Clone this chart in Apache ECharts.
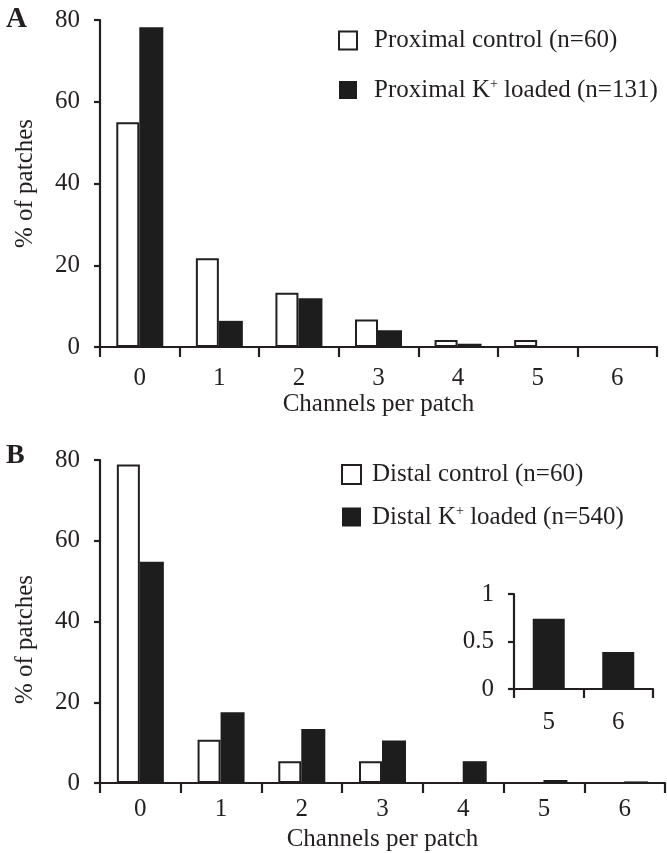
<!DOCTYPE html>
<html>
<head>
<meta charset="utf-8">
<script src="https://cdn.jsdelivr.net/npm/echarts@6/dist/echarts.min.js"></script>
<style>
html,body{margin:0;padding:0;background:#fff;}
#c{width:667px;height:853px;}
</style>
</head>
<body>
<div id="c"></div>
<script>
// ---- data ----
const categories = ['0', '1', '2', '3', '4', '5', '6'];
const proximalControl = [55.0, 21.7, 13.3, 6.7, 1.7, 1.7, 0];
const proximalLoaded = [78.2, 6.4, 11.9, 4.1, 0.8, 0, 0];
const distalControl = [78.9, 10.7, 5.4, 5.4, 0, 0, 0];
const distalLoaded = [54.8, 17.5, 13.4, 10.5, 5.4, 0.74, 0.39];
const insetCategories = ['5', '6'];
const insetValues = insetCategories.map(c => distalLoaded[categories.indexOf(c)]);
const seriesNames = {
  pc: 'Proximal control (n=60)',
  pl: 'Proximal K+ loaded (n=131)',
  dc: 'Distal control (n=60)',
  dl: 'Distal K+ loaded (n=540)'
};
const yTicksMain = [0, 20, 40, 60, 80];
const yTicksInset = [0, 0.5, 1];

// ---- styles ----
const FONT = "'Liberation Serif', 'Times New Roman', Times, serif";
const INK = '#231f20';
const FILL = '#1d1d1d';
const FS = 25;
const axisLine = { show: true, lineStyle: { color: INK, width: 2.2 } };
const lbl = { color: INK, fontFamily: FONT, fontSize: FS };

function xAxis(gi, data, tickLen, margin, name, nameGap) {
  return {
    type: 'category', gridIndex: gi, data: data,
    axisLine: axisLine,
    axisTick: { show: true, alignWithLabel: false, length: tickLen, lineStyle: { color: INK, width: 2.2 } },
    axisLabel: Object.assign({ margin: margin }, lbl),
    name: name, nameLocation: 'middle', nameGap: nameGap,
    nameTextStyle: lbl,
    splitLine: { show: false }
  };
}
function yAxis(gi, min, max, interval, name, pad, fmt) {
  return {
    type: 'value', gridIndex: gi, min: min, max: max, interval: interval,
    axisLine: axisLine,
    axisTick: { show: true, length: 6, lineStyle: { color: INK, width: 2.2 } },
    axisLabel: Object.assign({ margin: 20, formatter: fmt }, lbl),
    splitLine: { show: false },
    name: name, nameLocation: 'middle', nameGap: 62,
    nameTextStyle: Object.assign({ padding: pad }, lbl)
  };
}
const ctrlStyle = { color: '#fff', borderColor: INK, borderWidth: 2 };
const loadStyle = { color: FILL };

function legendFmt(n) { return n.replace('K+', 'K{sup|+}'); }
function legendText(padLeft) {
  return {
    color: INK, fontFamily: FONT, fontSize: FS, padding: [0, 0, 0, padLeft],
    rich: { sup: { fontFamily: FONT, fontSize: 14, color: INK, padding: [0, 0, 12, 0] } }
  };
}

const option = {
  backgroundColor: '#fff',
  animation: false,
  title: [
    { text: 'A', left: 1, top: 0, textStyle: { fontFamily: FONT, fontWeight: 'bold', fontSize: 29, color: INK } },
    { text: 'B', left: 1, top: 437, textStyle: { fontFamily: FONT, fontWeight: 'bold', fontSize: 28, color: INK } }
  ],
  grid: [
    { left: 100, right: 10, top: 20, height: 327 },
    { left: 100, right: 2, top: 460, height: 324 },
    { left: 514, right: 14, top: 594, height: 95 }
  ],
  legend: [
    {
      orient: 'vertical', left: 338, top: 28, padding: 0, itemWidth: 18, itemHeight: 18, itemGap: 24,
      icon: 'rect', formatter: legendFmt, textStyle: legendText(12),
      data: [
        { name: seriesNames.pc, itemStyle: ctrlStyle },
        { name: seriesNames.pl, itemStyle: loadStyle }
      ]
    },
    {
      orient: 'vertical', left: 341, top: 462, padding: 0, itemWidth: 19, itemHeight: 19, itemGap: 17,
      icon: 'rect', formatter: legendFmt, textStyle: legendText(6),
      data: [
        { name: seriesNames.dc, itemStyle: ctrlStyle },
        { name: seriesNames.dl, itemStyle: loadStyle }
      ]
    }
  ],
  xAxis: [
    xAxis(0, categories, 10, 19, 'Channels per patch', 45),
    xAxis(1, categories, 10, 14, 'Channels per patch', 44),
    xAxis(2, insetCategories, 9, 21, '', 0)
  ],
  yAxis: [
    yAxis(0, yTicksMain[0], yTicksMain[yTicksMain.length - 1], 20, '% of patches', [0, 0, 0, 0]),
    yAxis(1, yTicksMain[0], yTicksMain[yTicksMain.length - 1], 20, '% of patches', [0, 36, 0, 0]),
    yAxis(2, yTicksInset[0], yTicksInset[yTicksInset.length - 1], 0.5, '', [0, 0, 0, 0], v => String(v))
  ],
  series: [
    { type: 'bar', name: seriesNames.pc, xAxisIndex: 0, yAxisIndex: 0, data: proximalControl, barWidth: 23, barGap: '0%', itemStyle: ctrlStyle },
    { type: 'bar', name: seriesNames.pl, xAxisIndex: 0, yAxisIndex: 0, data: proximalLoaded, barWidth: 24, barGap: '0%', itemStyle: loadStyle },
    { type: 'bar', name: seriesNames.dc, xAxisIndex: 1, yAxisIndex: 1, data: distalControl, barWidth: 23, barGap: '0%', itemStyle: ctrlStyle },
    { type: 'bar', name: seriesNames.dl, xAxisIndex: 1, yAxisIndex: 1, data: distalLoaded, barWidth: 24, barGap: '0%', itemStyle: loadStyle },
    { type: 'bar', name: 'inset', xAxisIndex: 2, yAxisIndex: 2, data: insetValues, barWidth: 32, itemStyle: loadStyle }
  ]
};
const chart = echarts.init(document.getElementById('c'), null, { renderer: 'canvas' });
chart.setOption(option);
</script>
</body>
</html>
